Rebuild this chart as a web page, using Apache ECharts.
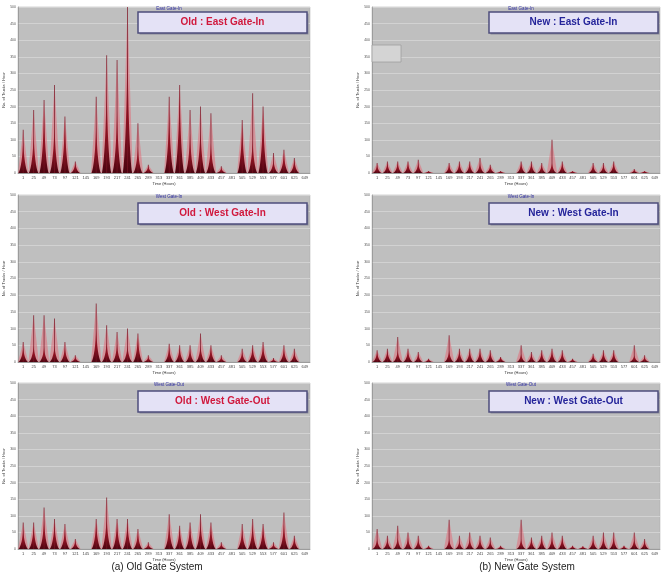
<!DOCTYPE html>
<html><head><meta charset="utf-8">
<script src="https://cdn.jsdelivr.net/npm/echarts@6/dist/echarts.min.js"></script>
<style>html,body{margin:0;padding:0;background:#fff}#c{width:671px;height:582px}</style>
</head><body><div id="c"></div>
<script>
// x categories: first hour of each day
const dayLabels = ['1','25','49','73','97','121','145','169','193','217','241','265','289','313','337','361','385','409','433','457','481','505','529','553','577','601','625','649'];
const yTicks = [0, 500, 50]; // min, max, interval

// daily peak (dark cluster) and max hourly spike, trucks per hour
const oldEastPeak  = [100,115,190,150,160,30,0, 150,270,190,400,80,20,0, 190,260,120,140,90,15,0, 150,100,190,40,60,40,0];
const oldEastSpike = [130,190,220,265,170,35,0, 230,355,340,500,150,25,0, 230,265,190,200,180,20,0, 160,240,200,60,70,45,0];
const newEastPeak  = [25,30,30,30,30,5,0, 25,30,30,30,20,5,0, 30,30,25,30,30,5,0, 25,25,30,0,10,5,0];
const newEastSpike = [30,35,35,35,40,6,0, 30,35,35,45,25,6,0, 35,35,30,100,35,6,0, 30,30,35,0,12,6,0];
const oldWestInPeak  = [45,50,45,50,45,15,0, 100,60,55,50,75,15,0, 45,45,40,50,45,15,0, 30,45,50,10,40,30,0];
const oldWestInSpike = [60,140,140,130,60,20,0, 175,110,90,100,85,20,0, 55,50,50,85,50,20,0, 40,50,60,12,50,40,0];
const newWestInPeak  = [30,35,35,35,25,10,0, 35,35,35,35,30,15,0, 25,25,30,35,30,10,0, 20,30,30,0,20,15,0];
const newWestInSpike = [35,40,75,40,30,10,0, 80,40,40,40,35,15,0, 50,30,35,40,35,10,0, 25,35,35,0,50,20,0];
const oldWestOutPeak  = [60,70,90,80,60,25,0, 80,100,80,80,50,15,0, 75,65,70,85,70,15,0, 60,75,70,15,75,35,0];
const oldWestOutSpike = [80,80,125,90,75,30,0, 90,155,90,90,60,20,0, 105,70,80,105,80,20,0, 75,90,75,20,110,40,0];
const newWestOutPeak  = [30,30,35,35,30,10,0, 30,25,30,30,25,10,0, 30,30,35,35,35,10,8, 30,35,35,10,30,25,0];
const newWestOutSpike = [60,40,70,50,40,10,0, 88,40,50,40,35,10,0, 88,35,40,50,40,10,8, 40,50,50,10,50,30,0];

const panelTitles = ['East Gate-In','East Gate-In','West Gate-In','West Gate-In','West Gate-Out','West Gate-Out'];
const boxLabels = ['Old : East Gate-In','New : East Gate-In','Old : West Gate-In','New : West Gate-In','Old : West Gate-Out','New : West Gate-Out'];
const captions = ['(a) Old Gate System','(b) New Gate System'];
const yName = 'No. of Trucks / Hour';
const xName = 'Time (Hours)';

const panels = [
  [oldEastPeak, oldEastSpike], [newEastPeak, newEastSpike],
  [oldWestInPeak, oldWestInSpike], [newWestInPeak, newWestInSpike],
  [oldWestOutPeak, oldWestOutSpike], [newWestOutPeak, newWestOutSpike]
];

const colL = [18, 292], colR = [372, 288];
const rows = [[7,166],[195,167],[383,166]];
const boxesY = [12, 203, 391];

const grids = [], xAxes = [], yAxes = [], series = [], graphics = [], titles = [];
panels.forEach((p, i) => {
  const col = i % 2 === 0 ? colL : colR;
  const row = rows[Math.floor(i / 2)];
  grids.push({left: col[0], top: row[0], width: col[1], height: row[1],
    show: true, backgroundColor: '#bfbfbf', borderColor: '#a8a8a8', borderWidth: 0.5});
  xAxes.push({type: 'category', gridIndex: i, data: dayLabels,
    name: xName, nameLocation: 'middle', nameGap: 9, nameTextStyle: {fontSize: 4, color: '#333'},
    axisLine: {lineStyle: {color: '#777', width: 0.6}}, axisTick: {show: false},
    axisLabel: {fontSize: 4, color: '#444', margin: 3, interval: 0}});
  yAxes.push({type: 'value', gridIndex: i, min: yTicks[0], max: yTicks[1], interval: yTicks[2],
    name: yName, nameLocation: 'middle', nameGap: 9, nameRotate: 90, nameTextStyle: {fontSize: 4, color: '#333'},
    axisLine: {show: true, lineStyle: {color: '#888', width: 0.6}}, axisTick: {show: false},
    axisLabel: {fontSize: 3.5, color: '#555', margin: 2},
    splitLine: {lineStyle: {color: '#d2d2d2', width: 1}}});
  series.push({type: 'pictorialBar', xAxisIndex: i, yAxisIndex: i, data: p[1],
    barWidth: '100%', barGap: '-100%', symbol: 'triangle', symbolSize: ['100%', '100%'],
    itemStyle: {color: 'rgba(226,110,122,0.55)'}, z: 2, silent: true});
  series.push({type: 'pictorialBar', xAxisIndex: i, yAxisIndex: i, data: p[0],
    barWidth: '100%', barGap: '-100%',
    symbol: 'path://M0,10 L10,10 C7.5,9 5.6,5 5,0 C4.4,5 2.5,9 0,10 z', symbolSize: ['90%', '100%'],
    itemStyle: {color: {type: 'linear', x: 0, y: 0, x2: 0, y2: 1, colorStops: [
      {offset: 0, color: '#c83240'}, {offset: 0.55, color: '#9a1424'}, {offset: 1, color: '#4a0410'}]}},
    z: 3, silent: true});
  series.push({type: 'bar', xAxisIndex: i, yAxisIndex: i, data: p[1], barWidth: 1,
    itemStyle: {color: 'rgba(120,20,35,0.7)'}, z: 4, silent: true});
  const cx = col[0] + col[1] / 2;
  titles.push({text: panelTitles[i], left: cx, top: row[0] - 6, textAlign: 'center',
    textStyle: {fontSize: 4.5, color: '#2a2aa0', fontWeight: 'normal', fontFamily: 'Liberation Sans'}});
  const bx = i % 2 === 0 ? 138 : 489;
  const bw = 169;
  const by = boxesY[Math.floor(i / 2)];
  graphics.push({type: 'rect', shape: {x: bx + 1.5, y: by + 1.5, width: bw, height: 21},
    style: {fill: '#8a8a9a'}, z: 10});
  graphics.push({type: 'rect', shape: {x: bx, y: by, width: bw, height: 21},
    style: {fill: '#e4e2f6', stroke: '#4e4e7c', lineWidth: 1.5}, z: 11});
  graphics.push({type: 'text', x: bx + bw / 2, y: by + 10.5,
    style: {text: boxLabels[i], fill: i % 2 === 0 ? '#d0183c' : '#24249a', font: 'bold 10px "Liberation Sans"',
      align: 'center', verticalAlign: 'middle'}, z: 12});
});
// small leftover legend box in New East panel
graphics.push({type: 'rect', shape: {x: 372, y: 45, width: 29, height: 17},
  style: {fill: '#d4d4d4', stroke: '#a0a0a0', lineWidth: 0.8}, z: 9});
captions.forEach((t, k) => {
  graphics.push({type: 'text', x: k === 0 ? 157 : 527, y: 567,
    style: {text: t, fill: '#222', font: '10px "Liberation Sans"', align: 'center', verticalAlign: 'middle'}, z: 12});
});

const chart = echarts.init(document.getElementById('c'), null, {renderer: 'canvas'});
chart.setOption({animation: false, backgroundColor: '#fff', title: titles, grid: grids,
  xAxis: xAxes, yAxis: yAxes, series: series, graphic: graphics});
</script></body></html>
